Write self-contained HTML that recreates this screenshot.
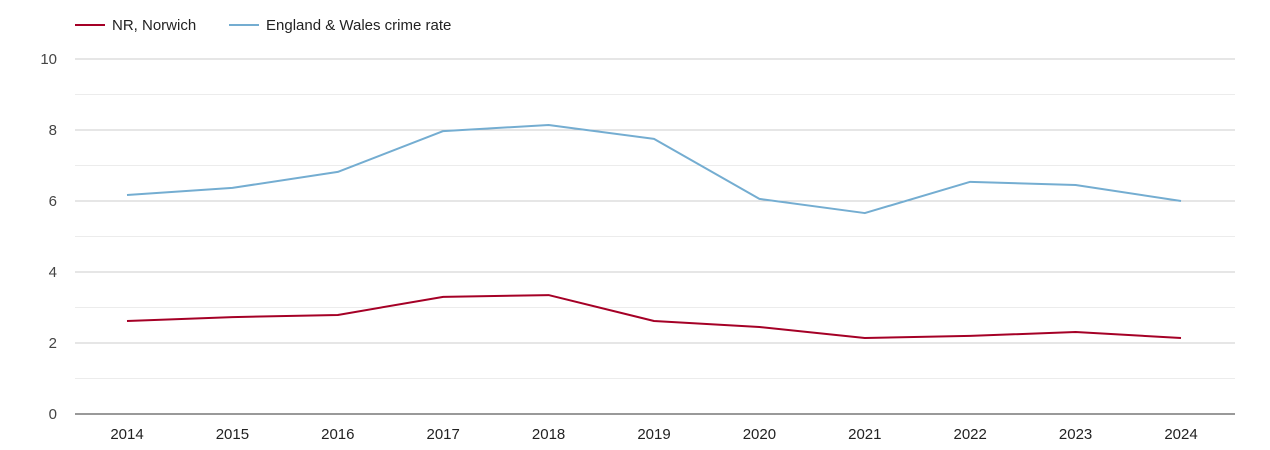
<!DOCTYPE html>
<html><head><meta charset="utf-8">
<style>
html,body{margin:0;padding:0;background:#fff;}
svg{display:block;font-family:"Liberation Sans",sans-serif;}
</style></head>
<body>
<svg id="chart" width="1270" height="450" viewBox="0 0 1270 450">
  <g id="legend">
    <g>
      <line x1="75" y1="25" x2="105" y2="25" stroke="#a50026" stroke-width="2"/>
      <text x="112" y="30" font-size="15" fill="#222">NR, Norwich</text>
    </g>
    <g>
      <line x1="229" y1="25" x2="259" y2="25" stroke="#74add1" stroke-width="2"/>
      <text x="266" y="30" font-size="15" fill="#222">England &amp; Wales crime rate</text>
    </g>
  </g>
  <g id="grid"></g>
  <g id="yticks"></g>
  <g id="xticks"></g>
  <g id="series"></g>
</svg>
<script>
const years = [2014,2015,2016,2017,2018,2019,2020,2021,2022,2023,2024];
const norwich = [2.62,2.73,2.79,3.30,3.35,2.62,2.45,2.14,2.20,2.31,2.14];
const englandWales = [6.17,6.37,6.82,7.97,8.14,7.75,6.06,5.66,6.54,6.45,6.0];
const yTicks = [0,2,4,6,8,10];

const NS = "http://www.w3.org/2000/svg";
const x0 = 75, x1 = 1235, yBottom = 414, yTop = 59, yMax = 10;
const firstX = 127, lastX = 1181;
function xScale(i){ return firstX + (lastX-firstX)*i/(years.length-1); }
function yScale(v){ return yBottom - (yBottom-yTop)*v/yMax; }
function mk(tag, attrs, parent){ const e=document.createElementNS(NS,tag); for(const k in attrs) e.setAttribute(k,attrs[k]); parent.appendChild(e); return e; }

const grid = document.getElementById('grid');
for(let v=1; v<=yMax; v++){
  const l = mk('line',{x1:x0,x2:x1,y1:yScale(v),y2:yScale(v),stroke:(v%2===0)?'#cccccc':'#ececec','stroke-width':1},grid);
  
  
}
const base = mk('line',{x1:x0,x2:x1,y1:yBottom,y2:yBottom,stroke:'#333','stroke-width':1},grid);



const yt = document.getElementById('yticks');
yTicks.forEach(v=>{
  const t = mk('text',{x:57,y:yScale(v)+5,'font-size':15,fill:'#444','text-anchor':'end'},yt);
  t.textContent = v;
  
  
});
const xt = document.getElementById('xticks');
years.forEach((y,i)=>{
  const t = mk('text',{x:xScale(i),y:439,'font-size':15,fill:'#222','text-anchor':'middle'},xt);
  t.textContent = y;
  
  
});

const sg = document.getElementById('series');
function drawLine(vals,color,name){
  const pts = vals.map((v,i)=>xScale(i)+','+yScale(v)).join(' ');
  const p = mk('polyline',{points:pts,fill:'none',stroke:color,'stroke-width':2,'stroke-linejoin':'round'},sg);
  
  
}
drawLine(englandWales,'#74add1','england-wales-line');
drawLine(norwich,'#a50026','norwich-line');
</script>
</body></html>
